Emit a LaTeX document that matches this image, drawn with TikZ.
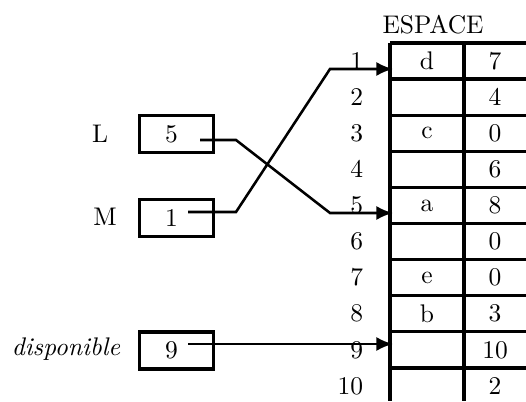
\documentclass[tikz,border=0pt]{standalone}
\usetikzlibrary{arrows.meta}
\begin{document}
\begin{tikzpicture}[x=0.3922pt,y=-0.3922pt,
    rule/.style={line width=1.3pt},
    cellbox/.style={draw,line width=1.3pt,minimum width=29pt,minimum height=14.5pt,inner sep=0pt},
    ptr/.style={line width=1pt,-{Latex[length=6.5pt,width=5.5pt]}}]
  \useasboundingbox (0,0) rectangle (526,401);
  \node (espace) at (433,25) {ESPACE};
  % table
  \draw[rule] (390,43) -- (390,401) (464,43) -- (464,401);
  \foreach \i in {0,...,9}
    \draw[rule] (390,{43+36.1*\i}) -- (526,{43+36.1*\i});
  \foreach \i/\c/\n in {1/d/7,2//4,3/c/0,4//6,5/a/8,6//0,7/e/0,8/b/3,9//10,10//2}{
    \node[anchor=east] (r\i) at (372,{43+36.1*(\i-0.5)}) {\i};
    \node (c\i) at (427,{43+36.1*(\i-0.5)}) {\c};
    \node (n\i) at (495,{43+36.1*(\i-0.5)}) {\n};
  }
  % variables
  \node (Llab) at (100,134) {L};
  \node (Mlab) at (105,217) {M};
  \node (Dlab) at (66,349) {\textit{disponible}};
  \node[cellbox] (L) at (176.5,134) {5\hspace*{4pt}};
  \node[cellbox] (M) at (176.5,218) {1\hspace*{4pt}};
  \node[cellbox] (D) at (176.5,350.5) {9\hspace*{4pt}};
  \coordinate (pL) at (200,140);
  \coordinate (pM) at (188,212);
  \coordinate (pD) at (188,344);
  \coordinate (e1) at (393,69);
  \coordinate (e5) at (393,213);
  \coordinate (e9) at (393,344);
  \begin{scope}[ptr]
    \draw (pL) -- ++(36,0) -- (330,213) -- (e5);
    \draw (pM) -- ++(48,0) -- (330,69) -- (e1);
    \draw (pD) -- (e9);
  \end{scope}
\end{tikzpicture}
\end{document}
